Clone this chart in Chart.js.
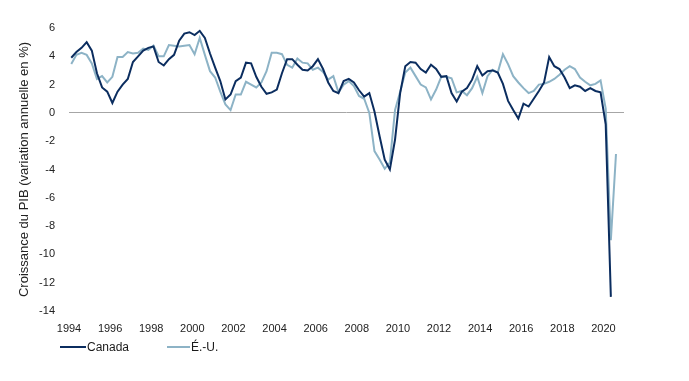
<!DOCTYPE html>
<html><head><meta charset="utf-8">
<script src="https://cdn.jsdelivr.net/npm/chart.js@4.4.1/dist/chart.umd.min.js"></script>
<style>
html,body{margin:0;padding:0;background:#fff;}
#wrap{position:relative;width:689px;height:381px;overflow:hidden;}
#legend{position:absolute;left:0;top:0;width:689px;height:381px;font:12px "Liberation Sans",Arial,sans-serif;color:#1a1a1a;}
.item{position:absolute;display:flex;align-items:center;height:16px;white-space:nowrap;}
.swatch{display:inline-block;height:2px;margin-right:1px;}
</style></head>
<body>
<div id="wrap"><canvas id="c" width="689" height="381"></canvas><div id="legend"></div></div>
<script>
// ---- data (y/y real GDP growth, %) ----
const startYear = 1994;            // first quarter: 1994 T1
const seriesNames = ['Canada', 'É.-U.'];
const yAxisTitle = 'Croissance du PIB (variation annuelle en %)';
const tickYears = [1994,1996,1998,2000,2002,2004,2006,2008,2010,2012,2014,2016,2018,2020];

const canada = [
  3.9, 4.3, 4.6, 5.0,   4.4, 2.8, 1.8, 1.5,   0.7, 1.5, 2.0, 2.4,   3.6, 4.0, 4.4, 4.6,
  4.7, 3.6, 3.35, 3.8,  4.1, 5.1, 5.6, 5.7,   5.5, 5.8, 5.3, 4.2,   3.2, 2.25, 0.95, 1.3,
  2.25, 2.5, 3.55, 3.5, 2.55, 1.85, 1.35, 1.45, 1.65, 2.8, 3.8, 3.8, 3.4, 3.05, 3.0, 3.3,
  3.8, 3.1, 2.15, 1.55, 1.4, 2.25, 2.4, 2.15,  1.6, 1.15, 1.4, 0.1,  -1.65, -3.3, -4.0, -1.9,
  1.4, 3.3, 3.6, 3.55,  3.1, 2.85, 3.4, 3.1,   2.55, 2.6, 1.4, 0.8,  1.5, 1.75, 2.35, 3.3,
  2.65, 2.95, 3.0, 2.85, 2.05, 0.85, 0.2, -0.4, 0.65, 0.45, 1.0, 1.55, 2.15, 3.95, 3.3, 3.1,
  2.5, 1.75, 1.95, 1.85, 1.55, 1.75, 1.55, 1.45, -0.8, -13.0
];
const us = [
  3.45, 4.1, 4.25, 4.1, 3.5, 2.4, 2.6, 2.15,  2.55, 3.95, 3.95, 4.3,  4.2, 4.25, 4.55, 4.45,
  4.75, 4.0, 4.0, 4.8,  4.75, 4.7, 4.75, 4.8,  4.15, 5.3, 4.1, 2.95,  2.5, 1.5, 0.6, 0.2,
  1.3, 1.3, 2.2, 2.0,   1.8, 2.15, 2.95, 4.25, 4.25, 4.15, 3.4, 3.2,  3.85, 3.55, 3.5, 3.05,
  3.2, 2.9, 2.35, 2.6,  1.45, 2.0, 2.25, 1.9,  1.2, 1.0, 0.0, -2.7,   -3.3, -3.95, -3.5, 0.2,
  1.5, 2.85, 3.2, 2.6,  2.0, 1.8, 0.95, 1.65,  2.55, 2.55, 2.45, 1.45, 1.55, 1.25, 1.75, 2.55,
  1.4, 2.6, 3.05, 2.85, 4.15, 3.45, 2.6, 2.15, 1.75, 1.4, 1.55, 2.0,  2.05, 2.2, 2.4, 2.7,
  3.05, 3.3, 3.1, 2.5,  2.2, 1.95, 2.05, 2.3,  0.3, -9.0, -2.9
];

// ---- categories (quarters) ----
const quarters = [];
for (let i = 0; i < us.length; i++) quarters.push((startYear + Math.floor(i / 4)) + 'T' + (i % 4 + 1));
function qPos(label) { const p = label.split('T'); return +p[0] + (p[1] - 1) / 4 + 0.11; }
const toPoints = vals => vals.map((v, i) => ({ x: qPos(quarters[i]), y: v }));

const colors = ['#0b2d5f', '#8db3c6'];
const FONT = '"Liberation Sans", Arial, sans-serif';

new Chart(document.getElementById('c'), {
  type: 'line',
  data: {
    datasets: [
      { label: seriesNames[0], data: toPoints(canada), borderColor: colors[0], borderWidth: 2, pointRadius: 0, tension: 0, fill: false },
      { label: seriesNames[1], data: toPoints(us), borderColor: colors[1], borderWidth: 2, pointRadius: 0, tension: 0, fill: false }
    ]
  },
  options: {
    responsive: false,
    devicePixelRatio: 1,
    animation: false,
    layout: { padding: { left: 0, right: 65, top: 28, bottom: 40 } },
    plugins: { legend: { display: false }, tooltip: { enabled: false } },
    scales: {
      x: {
        type: 'linear', min: 1994, max: 2021, position: 'bottom',
        grid: { display: false }, border: { display: false },
        afterBuildTicks: s => { s.ticks = tickYears.map(v => ({ value: v })); },
        ticks: { autoSkip: false, maxRotation: 0, padding: 3, color: '#222', font: { family: FONT, size: 11 }, callback: v => String(v) },
        afterFit: s => { s.height = 30; }
      },
      y: {
        min: -14, max: 6,
        grid: { drawTicks: false, lineWidth: 1, color: c => (c.tick && c.tick.value === 0) ? '#a6a6a6' : 'rgba(0,0,0,0)' },
        border: { display: false },
        ticks: { stepSize: 2, padding: 14, color: '#222', font: { family: FONT, size: 11 } },
        title: { display: true, text: yAxisTitle, color: '#222', font: { family: FONT, size: 13 }, padding: { top: 17, bottom: 0 } },
        afterFit: s => { s.width = 69; }
      }
    }
  }
});

// ---- legend ----
const legendPos = [{ x: 60, w: 26 }, { x: 167, w: 23 }];
const lg = document.getElementById('legend');
seriesNames.forEach((name, i) => {
  const it = document.createElement('div');
  it.className = 'item';
  it.style.left = legendPos[i].x + 'px';
  it.style.top = '339px';
  const sw = document.createElement('span');
  sw.className = 'swatch';
  sw.style.width = legendPos[i].w + 'px';
  sw.style.background = colors[i];
  const tx = document.createElement('span');
  tx.textContent = name;
  it.appendChild(sw); it.appendChild(tx);
  lg.appendChild(it);
});
</script>
</body></html>
